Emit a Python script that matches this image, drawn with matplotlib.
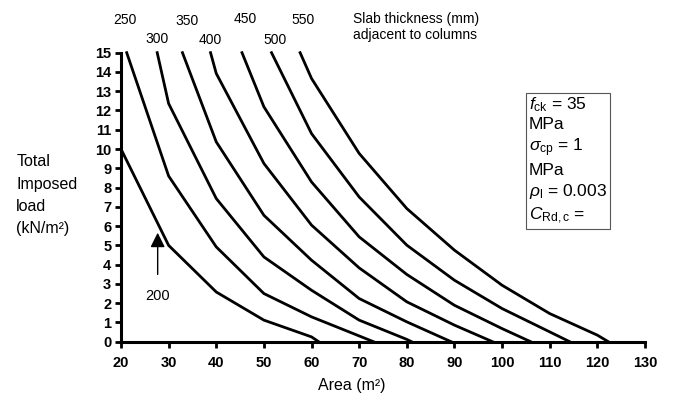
import matplotlib.pyplot as plt

plt.rcParams['font.family'] = ['Liberation Sans', 'DejaVu Sans']
plt.rcParams['mathtext.fontset'] = 'custom'
plt.rcParams['mathtext.rm'] = 'Liberation Sans'
plt.rcParams['mathtext.it'] = 'Liberation Sans:italic'

# slab thickness (mm) for each curve
thickness = [200, 250, 300, 350, 400, 450, 500, 550]

# area (m2) / total imposed load (kN/m2) pairs
area_200 = [20, 30, 40, 50, 60, 61.5]
load_200 = [10.0, 5.0, 2.58, 1.12, 0.25, 0]
area_250 = [21.2, 30, 40, 50, 60, 70, 73]
load_250 = [15, 8.6, 4.92, 2.50, 1.29, 0.3, 0]
area_300 = [27.6, 30, 40, 50, 60, 70, 80, 81]
load_300 = [15, 12.36, 7.43, 4.40, 2.67, 1.12, 0.12, 0]
area_350 = [32.9, 40, 50, 60, 70, 80, 89.3]
load_350 = [15, 10.37, 6.56, 4.23, 2.24, 1.03, 0]
area_400 = [38.8, 40, 50, 60, 70, 80, 90, 98]
load_400 = [15, 13.92, 9.25, 6.05, 3.83, 2.07, 0.86, 0]
area_450 = [45.4, 50, 60, 70, 80, 90, 100, 106]
load_450 = [15, 12.19, 8.29, 5.44, 3.49, 1.89, 0.68, 0]
area_500 = [51.6, 60, 70, 80, 90, 100, 110, 114.2]
load_500 = [15, 10.8, 7.51, 5.01, 3.19, 1.72, 0.51, 0]
area_550 = [57.6, 60, 70, 80, 90, 100, 110, 120, 122.3]
load_550 = [15, 13.66, 9.77, 6.91, 4.75, 2.93, 1.46, 0.34, 0]

areas = [area_200, area_250, area_300, area_350, area_400, area_450, area_500, area_550]
loads = [load_200, load_250, load_300, load_350, load_400, load_450, load_500, load_550]

fig = plt.figure(figsize=(6.74, 4.18), dpi=100)
ax = fig.add_axes([0.1795, 0.1825, 0.7775, 0.6915])

for a, w in zip(areas, loads):
    ax.plot(a, w, color='black', lw=2.0, solid_joinstyle='miter', clip_on=False)

ax.set_xlim(20, 130)
ax.set_ylim(0, 15)
ax.set_xticks(range(20, 131, 10))
ax.set_yticks(range(0, 16))
for lab in ax.get_xticklabels() + ax.get_yticklabels():
    lab.set_fontweight('bold')
    lab.set_fontsize(10.5)
ax.tick_params(direction='out', length=4, width=2, pad=3)
ax.tick_params(axis='x', pad=6)
ax.spines['top'].set_visible(False)
ax.spines['right'].set_visible(False)
ax.spines['left'].set_linewidth(2.2)
ax.spines['bottom'].set_linewidth(2.2)

ax.set_xlabel('Area (m²)', fontsize=11.5)
ax.xaxis.set_label_coords(0.44, -0.125)
fig.text(0.024, 0.533, 'Total\nImposed\nload\n(kN/m²)', fontsize=11.5,
         ha='left', va='center', linespacing=1.6)

# slab thickness labels above the curves
top_lbl = {250: (125, 20), 300: (157, 39), 350: (187, 21), 400: (210, 40),
           450: (245, 19), 500: (275, 40), 550: (303, 20)}
for t, (px, py) in top_lbl.items():
    fig.text(px / 674, 1 - py / 418, str(t), fontsize=10, ha='center', va='center')
fig.text(353 / 674, 1 - 27 / 418, 'Slab thickness (mm)\nadjacent to columns',
         fontsize=10, ha='left', va='center', linespacing=1.1)

# arrow for the 200 mm curve
ax.annotate('', xy=(27.7, 5.8), xytext=(27.7, 3.35),
            arrowprops=dict(arrowstyle='-|>', color='black', lw=1.0,
                            mutation_scale=22))
ax.text(27.7, 2.35, '200', fontsize=10.5, ha='center', va='center')

# parameter box
box = (r'$f_{\mathrm{ck}}$ = 35' + '\nMPa\n' + r'$\sigma_{\mathrm{cp}}$ = 1'
       + '\nMPa\n' + r'$\rho_{\mathrm{l}}$ = 0.003' + '\n' + r'$C_{\mathrm{Rd,c}}$ =     ')
fig.text(529 / 674, 1 - 95 / 418, box, fontsize=12.5, ha='left', va='top',
         linespacing=1.3,
         bbox=dict(boxstyle='square,pad=0.2', fc='white', ec='#555555', lw=0.8))

fig.savefig('out.png', dpi=100)
